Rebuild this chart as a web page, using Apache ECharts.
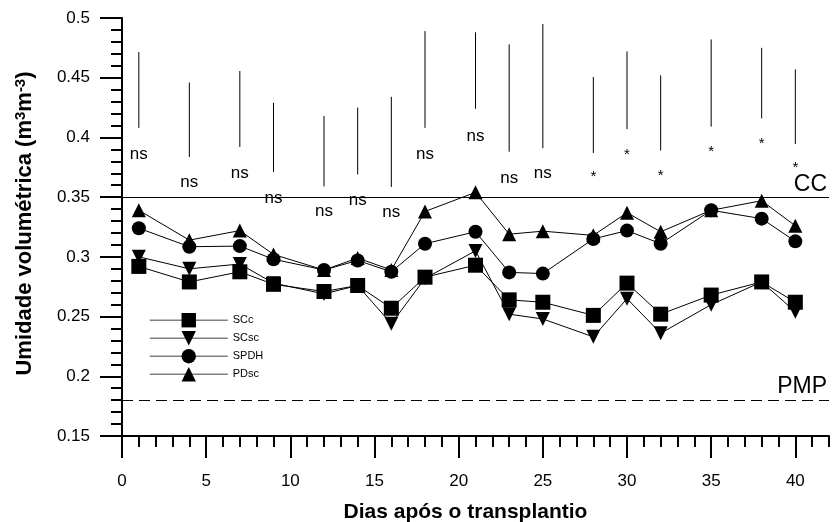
<!DOCTYPE html>
<html>
<head>
<meta charset="utf-8">
<script src="https://cdn.jsdelivr.net/npm/echarts@6/dist/echarts.min.js"></script>
<style>html,body{margin:0;padding:0;background:#fff}#c{width:832px;height:522px}</style>
</head>
<body>
<div id="c"></div>
<script>
const days = [1,4,7,9,12,14,16,18,21,23,25,28,30,32,35,38,40];
const SCc  = [0.292,0.279,0.2875,0.277,0.271,0.276,0.257,0.283,0.293,0.264,0.262,0.251,0.278,0.252,0.268,0.279,0.262];
const SCsc = [0.300,0.290,0.294,0.278,0.269,0.276,0.244,0.282,0.305,0.252,0.248,0.233,0.265,0.236,0.260,0.279,0.254];
const SPDH = [0.324,0.3085,0.309,0.298,0.289,0.297,0.2875,0.311,0.321,0.287,0.286,0.315,0.322,0.311,0.339,0.332,0.313];
const PDsc = [0.339,0.314,0.322,0.302,0.289,0.299,0.289,0.338,0.354,0.319,0.3215,0.318,0.337,0.321,0.339,0.347,0.326];
const barLow  = [0.408,0.3836,0.392,0.371,0.359,0.369,0.3585,0.408,0.424,0.388,0.391,0.387,0.407,0.389,0.409,0.416,0.3945];
const barHigh = [0.4715,0.446,0.4556,0.429,0.418,0.425,0.434,0.489,0.488,0.478,0.495,0.4506,0.472,0.452,0.482,0.475,0.457];
const sigText = ['ns','ns','ns','ns','ns','ns','ns','ns','ns','ns','ns','*','*','*','*','*','*'];
const sigY    = [0.386,0.362,0.370,0.349,0.338,0.347,0.337,0.386,0.401,0.366,0.370,0.367,0.385,0.368,0.388,0.3945,0.3744];
const xMajorTicks = [0,5,10,15,20,25,30,35,40];
const CC = 0.35, PMP = 0.18;

const FONT = 'Liberation Sans, Arial, sans-serif';
const pair = arr => days.map((d,i)=>[d, arr[i]]);

const chart = echarts.init(document.getElementById('c'), null, {renderer:'canvas'});
const lineSeries = (name, arr, symbol, size, rotate) => ({
  name, type:'line', data: pair(arr), xAxisIndex:0, yAxisIndex:0,
  symbol, symbolSize:size, symbolRotate: rotate||0,
  lineStyle:{color:'#000', width:1},
  itemStyle:{color:'#000'},
  showAllSymbol:true, animation:false, z:3
});

chart.setOption({
  animation:false,
  textStyle:{fontFamily:FONT},
  grid:{left:122, top:18, right:3, bottom:86, containLabel:false, outerBoundsMode:'none'},
  legend:{
    orient:'vertical', left:144, top:308, itemWidth:78, itemHeight:18, itemGap:3.6,
    textStyle:{fontSize:11, color:'#000', fontFamily:FONT},
    lineStyle:{color:'#808080', width:1.5},
    data:['SCc','SCsc','SPDH','PDsc']
  },
  xAxis:[
    {type:'value', min:0, max:42, interval:1, position:'bottom',
     axisLine:{show:true, lineStyle:{color:'#000', width:2}},
     axisTick:{show:true, length:11, lineStyle:{color:'#000', width:2}},
     axisLabel:{show:false}, splitLine:{show:false},
     name:'Dias após o transplantio', nameLocation:'middle', nameGap:66,
     nameTextStyle:{fontSize:21, fontWeight:'bold', color:'#000', fontFamily:FONT, padding:[0,20,0,0], verticalAlign:'top'}
    },
    {type:'value', min:0, max:42, interval:5, position:'bottom', gridIndex:0,
     axisLine:{show:false},
     axisTick:{show:true, length:22, customValues:xMajorTicks, lineStyle:{color:'#000', width:2}},
     axisLabel:{show:true, customValues:xMajorTicks, margin:37, fontSize:17, color:'#000', fontFamily:FONT},
     splitLine:{show:false}
    }
  ],
  yAxis:{
    type:'value', min:0.15, max:0.5, interval:0.05,
    axisLine:{show:true, lineStyle:{color:'#000', width:2}},
    axisTick:{show:true, length:22, lineStyle:{color:'#000', width:2}},
    minorTick:{show:true, splitNumber:5, length:11, lineStyle:{color:'#000', width:2}},
    splitLine:{show:false}, minorSplitLine:{show:false},
    axisLabel:{margin:32, fontSize:17, color:'#000', fontFamily:FONT, formatter:v=>String(+v.toFixed(2))},
    name:'Umidade volumétrica (m{sup|3}m{sup|-3})', nameLocation:'middle', nameGap:86,
    nameTextStyle:{fontSize:22, fontWeight:'bold', color:'#000', fontFamily:FONT, padding:[0,0,0,7],
      rich:{sup:{fontSize:15, fontWeight:'bold', verticalAlign:'top', padding:[0,0,8,0], fontFamily:FONT, color:'#000'}}}
  },
  series:[
    lineSeries('SCc', SCc, 'rect', 15),
    lineSeries('SCsc', SCsc, 'triangle', 14, 180),
    lineSeries('SPDH', SPDH, 'circle', 14),
    Object.assign(lineSeries('PDsc', PDsc, 'triangle', 14), {
      markLine:{silent:true, symbol:'none', animation:false,
        data:[
          {yAxis:CC, lineStyle:{type:'solid', color:'#000', width:1},
           label:{show:true, position:'insideEndTop', formatter:'CC', fontSize:23, color:'#000', fontFamily:FONT, distance:[2,1]}},
          {yAxis:PMP, lineStyle:{type:[11,6], color:'#000', width:1},
           label:{show:true, position:'insideEndTop', formatter:'PMP', fontSize:23, color:'#000', fontFamily:FONT, distance:[2,2]}}
        ]}
    }),
    {type:'custom', name:'bars', xAxisIndex:0, yAxisIndex:0, silent:true,
     data: days.map((d,i)=>[d, barLow[i], barHigh[i]]),
     renderItem:(params, api)=>{
       const p1 = api.coord([api.value(0), api.value(1)]);
       const p2 = api.coord([api.value(0), api.value(2)]);
       return {type:'line', shape:{x1:p1[0], y1:p1[1], x2:p2[0], y2:p2[1]}, style:{stroke:'#000', lineWidth:1}};
     }},
    {type:'custom', name:'sig', xAxisIndex:0, yAxisIndex:0, silent:true,
     data: days.map((d,i)=>[d, sigY[i]]),
     renderItem:(params, api)=>{
       const p = api.coord([api.value(0), api.value(1)]);
       const t = sigText[params.dataIndex];
       return {type:'text', x:p[0], y:p[1], style:{text:t, fill:'#000', font:(t==='*'?'15px ':'17px ')+FONT, align:'center', verticalAlign:'middle'}};
     }}
  ]
});
</script>
</body>
</html>
